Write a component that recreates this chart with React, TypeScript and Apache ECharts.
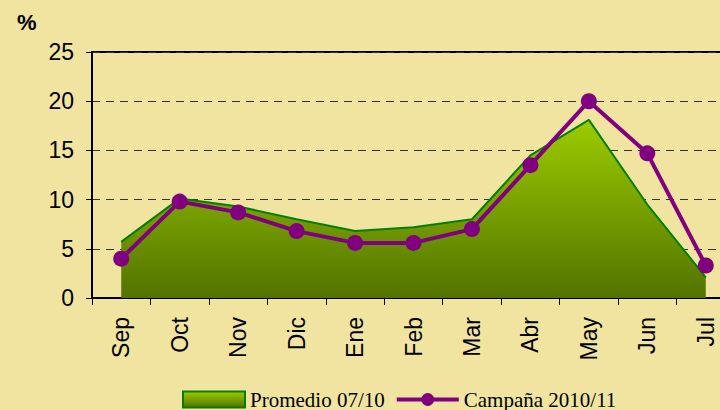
import React, { useEffect, useRef } from "react";
import * as echarts from "echarts";

const categories = ["Sep", "Oct", "Nov", "Dic", "Ene", "Feb", "Mar", "Abr", "May", "Jun", "Jul"];
const promedio = [5.7, 10.1, 9.3, 8.0, 6.8, 7.2, 8.0, 14.5, 18.1, 9.5, 2.1];
const campana = [4.0, 9.8, 8.7, 6.8, 5.6, 5.6, 7.0, 13.5, 20.0, 14.7, 3.3];
const yTicks = { min: 0, max: 25, interval: 5 };
const seriesNames = ["Promedio 07/10", "Campaña 2010/11"];

const areaGradient = () =>
  new echarts.graphic.LinearGradient(0, 0, 0, 1, [
    { offset: 0, color: "#9ccc00" },
    { offset: 1, color: "#537300" },
  ]);

export default function App() {
  const ref = useRef<HTMLDivElement>(null);
  useEffect(() => {
    if (!ref.current) return;
    const chart = echarts.init(ref.current, null, { renderer: "svg" });
    chart.setOption({
      animation: false,
      backgroundColor: "#f0e4a0",
      textStyle: { fontFamily: "Liberation Sans, Arial, sans-serif" },
      graphic: [
        {
          type: "text",
          left: 17,
          top: 11,
          style: { text: "%", font: "bold 22px Liberation Sans, Arial, sans-serif", fill: "#000" },
        },
      ],
      grid: {
        left: 92,
        top: 52,
        width: 643,
        height: 246,
        outerBoundsMode: "none",
        containLabel: false,
        show: true,
        borderColor: "#000",
        borderWidth: 2,
        backgroundColor: "transparent",
      },
      legend: {
        top: 389,
        left: 182,
        itemGap: 10,
        itemWidth: 62,
        itemHeight: 16,
        padding: 0,
        textStyle: {
          fontFamily: "Liberation Serif, Times New Roman, serif",
          fontSize: 21,
          color: "#000",
        },
        data: [
          {
            name: seriesNames[0],
            icon: "rect",
            itemStyle: { color: areaGradient(), borderColor: "#008000", borderWidth: 2 },
          },
          {
            name: seriesNames[1],
            lineStyle: { color: "#800080", width: 4 },
            itemStyle: { color: "#800080" },
          },
        ],
      },
      xAxis: {
        type: "category",
        data: categories,
        boundaryGap: true,
        axisLine: { lineStyle: { color: "#000", width: 2 } },
        axisTick: { show: true, alignWithLabel: false, length: 7, lineStyle: { color: "#000", width: 1 } },
        axisLabel: {
          rotate: 90,
          margin: 19,
          fontSize: 23,
          color: "#000",
          fontFamily: "Liberation Sans, Arial, sans-serif",
        },
      },
      yAxis: {
        type: "value",
        min: yTicks.min,
        max: yTicks.max,
        interval: yTicks.interval,
        axisLine: { show: true, lineStyle: { color: "#000", width: 2 } },
        axisTick: { show: true, length: 6, lineStyle: { color: "#000" } },
        axisLabel: {
          margin: 18,
          fontSize: 23,
          color: "#000",
          fontFamily: "Liberation Sans, Arial, sans-serif",
        },
        splitLine: { show: true, lineStyle: { color: "#333", type: [8, 6], width: 1 } },
      },
      series: [
        {
          name: seriesNames[0],
          type: "line",
          data: promedio,
          symbol: "none",
          lineStyle: { color: "#008000", width: 2 },
          itemStyle: { color: "#008000" },
          areaStyle: { color: areaGradient(), opacity: 1 },
          z: 2,
        },
        {
          name: seriesNames[1],
          type: "line",
          data: campana,
          symbol: "circle",
          symbolSize: 16,
          lineStyle: { color: "#800080", width: 4 },
          itemStyle: { color: "#800080" },
          z: 3,
        },
      ],
    });
    return () => chart.dispose();
  }, []);
  return <div ref={ref} style={{ width: 720, height: 410, position: "absolute", left: 0, top: 0 }} />;
}
